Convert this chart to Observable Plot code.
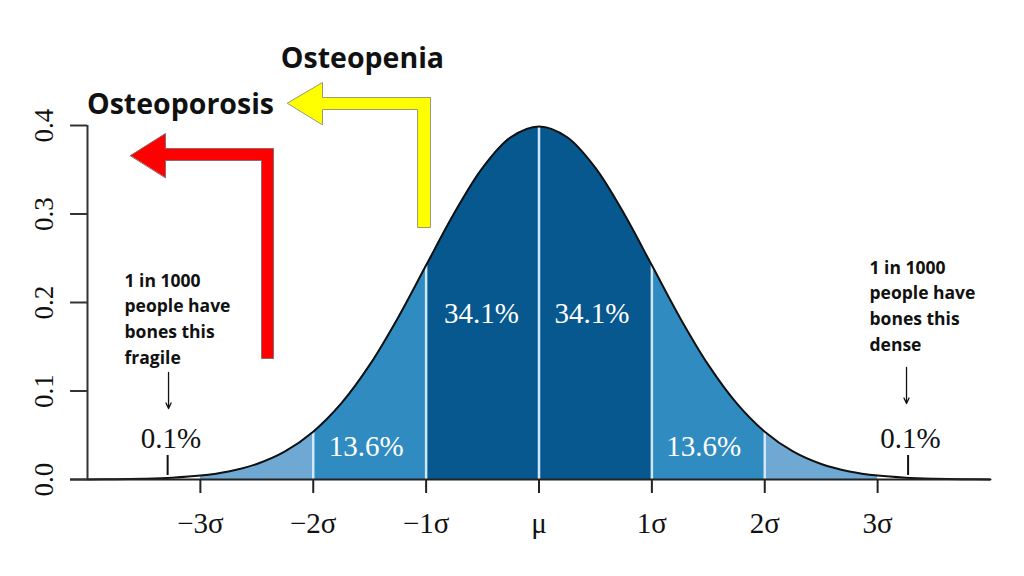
<!DOCTYPE html>
<html><head><meta charset="utf-8">
<script src="https://cdn.jsdelivr.net/npm/d3@7"></script>
<script src="https://cdn.jsdelivr.net/npm/@observablehq/plot@0.6"></script>
<style>body{margin:0;background:#fff;} #chart svg{display:block;background:#fff}</style>
</head><body><div id="chart"></div>
<script>
// Standard-normal curve (x in σ units, y = density)
const zValues = [-4,-3.75,-3.5,-3.25,-3,-2.75,-2.5,-2.25,-2,-1.75,-1.5,-1.25,-1,-0.75,-0.5,-0.25,0,0.25,0.5,0.75,1,1.25,1.5,1.75,2,2.25,2.5,2.75,3,3.25,3.5,3.75,4];
const density = [0.0001,0.0004,0.0009,0.0020,0.0044,0.0091,0.0175,0.0317,0.0540,0.0863,0.1295,0.1826,0.2420,0.3011,0.3521,0.3867,0.3989,0.3867,0.3521,0.3011,0.2420,0.1826,0.1295,0.0863,0.0540,0.0317,0.0175,0.0091,0.0044,0.0020,0.0009,0.0004,0.0001];

// Shaded bands
const bandFrom = [-3,-2,-1,0,1,2];
const bandTo   = [-2,-1,0,1,2,3];
const bandColor = ["#6ea8d3","#2f8bc0","#07588e","#07588e","#2f8bc0","#6ea8d3"];
const separators = [-2,-1,0,1,2];

// Axis ticks
const xTicks = [-3,-2,-1,0,1,2,3];
const xTickLabels = ["\u22123\u03c3","\u22122\u03c3","\u22121\u03c3","\u03bc","1\u03c3","2\u03c3","3\u03c3"];
const yTicks = [0,0.1,0.2,0.3,0.4];

// Percentage labels
const pctText = ["34.1%","34.1%","13.6%","13.6%"];
const pctX = [-0.51,0.47,-1.53,1.46];
const pctY = [0.1876,0.1876,0.0373,0.0373];
const tailText = ["0.1%","0.1%"];
const tailX = [-3.26,3.29];
const tailY = [0.0463,0.0463];
const tailTickX = [-3.29,3.27];

// Notes
const noteText = ["1 in 1000\npeople have\nbones this\nfragile","1 in 1000\npeople have\nbones this\ndense"];
const noteX = [-3.672,2.928];
const noteY = [0.1836,0.1983];
const downArrowX = [-3.282,3.256];
const downArrowTop = [0.1209,0.1266];
const downArrowBottom = [0.0802,0.0859];

// Big L-shaped arrows (outline vertices, σ / density units)
const yellowArrowX = [-2.228,-1.918,-1.918,-0.961,-0.961,-1.076,-1.076,-1.918,-1.918];
const yellowArrowY = [0.4254,0.4486,0.4316,0.4316,0.2847,0.2847,0.4181,0.4181,0.4011];
const redArrowX = [-3.619,-3.309,-3.309,-2.352,-2.352,-2.458,-2.458,-3.309,-3.309];
const redArrowY = [0.3661,0.3910,0.3740,0.3740,0.1367,0.1367,0.3605,0.3605,0.3412];
const titleText = ["Osteopenia","Osteoporosis"];
const titleX = [-1.564,-3.176];
const titleY = [0.4757,0.4237];

const pts = zValues.map((x,i)=>({x, y: density[i]}));
const dens = v => density[zValues.indexOf(v)];
const serif = "Liberation Serif, Times New Roman, serif";
const sans = "Open Sans, sans-serif";

const bandMarks = bandFrom.map((f,i)=>Plot.areaY(pts.filter(p=>p.x>=f && p.x<=bandTo[i]), {x:"x", y:"y", fill: bandColor[i], curve:"catmull-rom"}));

const poly = (xs, ys) => xs.map((x,i)=>({x, y: ys[i]}));

const chart = Plot.plot({
  width: 1024, height: 576,
  marginLeft: 87, marginRight: 34, marginTop: 125, marginBottom: 97,
  x: {domain: [-4,4], axis: null},
  y: {domain: [0,0.4], axis: null},
  marks: [
    ...bandMarks,
    Plot.ruleX(separators, {x: d=>d, y1: 0, y2: d=>dens(d), stroke: "#cfe7f8", strokeWidth: 2.5}),
    Plot.line(pts, {x:"x", y:"y", stroke:"#111", strokeWidth: 2, curve:"catmull-rom"}),
    // x axis
    Plot.ruleY([0], {x1: -4.15, x2: 4, stroke:"#222", strokeWidth: 2}),
    Plot.ruleX(xTicks, {x: d=>d, y1: 0, y2: -0.0158, stroke:"#222", strokeWidth: 2}),
    Plot.text(xTicks, {x: d=>d, y: 0, dy: 44, text: (d,i)=>xTickLabels[i], fontFamily: serif, fontSize: 29, fill:"#111"}),
    // y axis
    Plot.ruleX([-4], {y1: 0, y2: 0.4, stroke:"#333", strokeWidth: 2}),
    Plot.ruleY(yTicks, {y: d=>d, x1: -4.15, x2: -4, stroke:"#333", strokeWidth: 2}),
    Plot.text(yTicks, {x: -4, y: d=>d, text: d=>d.toFixed(1), rotate: -90, dx: -43, fontFamily: serif, fontSize: 27, fill:"#111"}),
    // percentages
    Plot.text(pctText, {x: (d,i)=>pctX[i], y: (d,i)=>pctY[i], text: d=>d, fill:"white", fontFamily: serif, fontSize: 29}),
    Plot.text(tailText, {x: (d,i)=>tailX[i], y: (d,i)=>tailY[i], text: d=>d, fill:"#111", fontFamily: serif, fontSize: 29}),
    Plot.ruleX(tailTickX, {x: d=>d, y1: 0.0045, y2: 0.0271, stroke:"#111", strokeWidth: 2}),
    // notes
    Plot.text(noteText, {x: (d,i)=>noteX[i], y: (d,i)=>noteY[i], text: d=>d, textAnchor:"start", lineHeight: 1.46, fontFamily: sans, fontWeight: "bold", fontSize: 17.5, fill:"#111"}),
    Plot.arrow(downArrowX, {x1: d=>d, x2: d=>d, y1: (d,i)=>downArrowTop[i], y2: (d,i)=>downArrowBottom[i], stroke:"#111", strokeWidth: 1.3, headLength: 7, headAngle: 50}),
    // L-arrows
    Plot.line(poly(yellowArrowX, yellowArrowY), {x:"x", y:"y", fill:"#ffff00", stroke:"#9a9a70", strokeWidth: 1, curve:"linear-closed", strokeLinejoin:"miter"}),
    Plot.line(poly(redArrowX, redArrowY), {x:"x", y:"y", fill:"#ff0000", stroke:"#8a6a6a", strokeWidth: 1, curve:"linear-closed", strokeLinejoin:"miter"}),
    Plot.text(titleText, {x: (d,i)=>titleX[i], y: (d,i)=>titleY[i], text: d=>d, fontFamily: sans, fontWeight: "bold", fontSize: 28.5, fill:"#111"})
  ]
});
document.getElementById("chart").appendChild(chart);
</script></body></html>
